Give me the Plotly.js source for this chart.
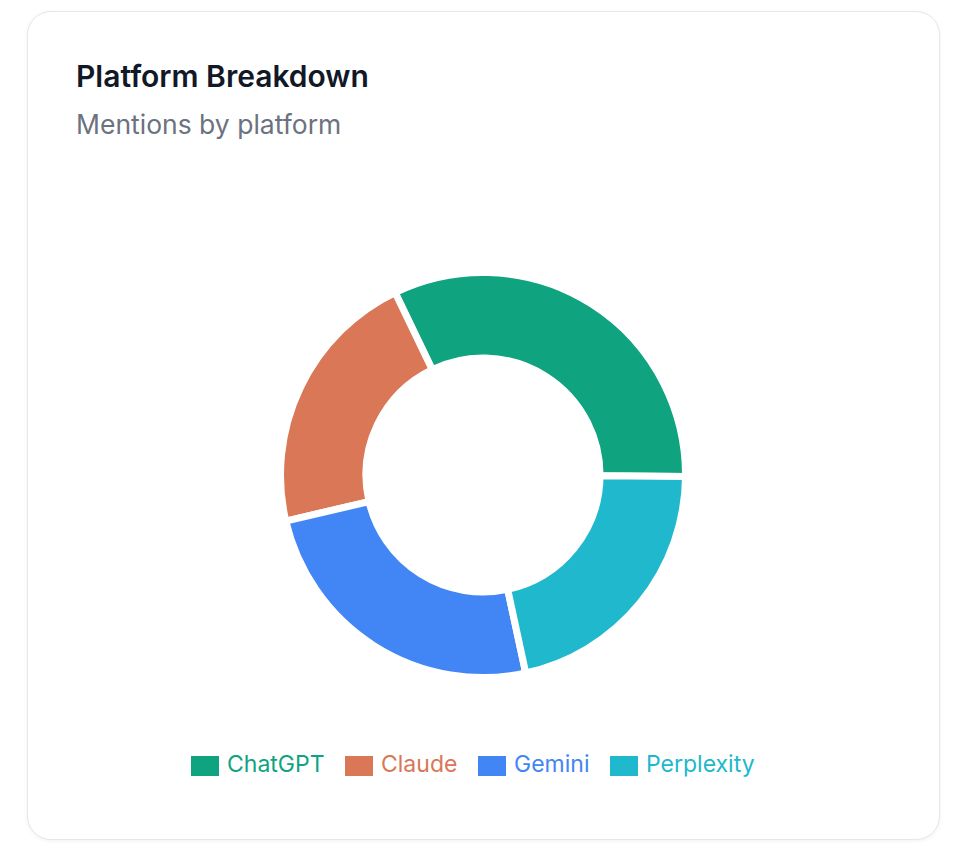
<!DOCTYPE html>
<html>
<head>
<meta charset="utf-8">
<script src="https://cdn.plot.ly/plotly-3.0.1.min.js"></script>
<style>
  html, body { margin: 0; padding: 0; background: #ffffff; width: 974px; height: 864px; overflow: hidden; }
  #card { position: absolute; left: 27px; top: 11px; width: 911px; height: 827px;
          border: 1px solid #e5e7eb; border-radius: 24px; background: #ffffff;
          box-shadow: 0 1px 4px rgba(0,0,0,0.06); }
  #chart { position: absolute; left: 0; top: 0; width: 974px; height: 864px; }
</style>
</head>
<body>
<div id="card"></div>
<div id="chart"></div>
<script>
// ---- data ----
const platforms = ["ChatGPT", "Claude", "Gemini", "Perplexity"];
const mentions = [30, 20, 23, 20];
const platformColors = ["#10a37f", "#d97757", "#4285f4", "#20b8cd"];
const chartTitle = "Platform Breakdown";
const chartSubtitle = "Mentions by platform";

// ---- layout helpers ----
const W = 974, H = 864;
const px = x => x / W;
const py = y => 1 - y / H;

const cx = 483, cy = 475, r = 202.5;
const total = mentions.reduce((a, b) => a + b, 0);
// first slice ends at (about) 3 o'clock, the rest follow counterclockwise
const startRotation = 90.4 - 360 * mentions[0] / total;

const trace = {
  type: "pie",
  labels: platforms,
  values: mentions,
  sort: false,
  direction: "counterclockwise",
  rotation: startRotation,
  hole: 0.578,
  textinfo: "none",
  hoverinfo: "label+value+percent",
  showlegend: false,
  marker: { colors: platformColors, line: { color: "#ffffff", width: 7 } },
  domain: { x: [px(cx - r), px(cx + r)], y: [py(cy + r), py(cy - r)] }
};

const annotations = [
  { text: chartTitle, x: px(74), y: py(76), xanchor: "left", yanchor: "middle",
    font: { family: "Inter, sans-serif", size: 30, color: "#111827", weight: 600 } },
  { text: chartSubtitle, x: px(74), y: py(124), xanchor: "left", yanchor: "middle",
    font: { family: "Inter, sans-serif", size: 26.5, color: "#6b7280" } }
];
const shapes = [];
const swatchX = [191, 345, 478, 610];
platforms.forEach((name, i) => {
  shapes.push({ type: "rect", xref: "paper", yref: "paper",
    x0: px(swatchX[i]), x1: px(swatchX[i] + 28), y0: py(776), y1: py(756),
    fillcolor: platformColors[i], line: { width: 0 } });
  annotations.push({ text: name, x: px(swatchX[i] + 34), y: py(764),
    xanchor: "left", yanchor: "middle", showarrow: false,
    font: { family: "Inter, sans-serif", size: 23, color: platformColors[i] } });
});
annotations.forEach(a => { a.xref = "paper"; a.yref = "paper"; a.showarrow = false; });

const layout = {
  width: W, height: H,
  margin: { l: 0, r: 0, t: 0, b: 0 },
  paper_bgcolor: "rgba(0,0,0,0)",
  plot_bgcolor: "rgba(0,0,0,0)",
  showlegend: false,
  annotations: annotations,
  shapes: shapes
};

Plotly.newPlot("chart", [trace], layout, { displayModeBar: false });
</script>
</body>
</html>
